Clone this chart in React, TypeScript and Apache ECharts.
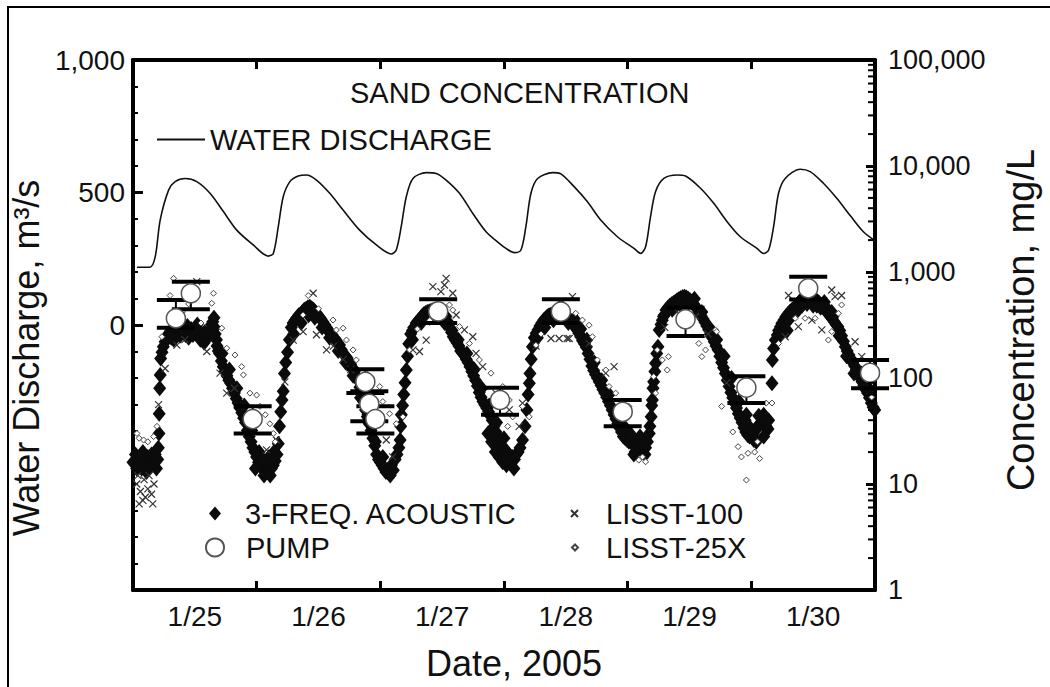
import React, { useEffect, useRef } from 'react';
import * as echarts from 'echarts';

// ---- tick labels ----
const dateLabels = ['1/25', '1/26', '1/27', '1/28', '1/29', '1/30'];
const leftLabelValues = [0, 500, 1000];
const rightMinorTickValues = [
  2, 3, 4, 5, 6, 7, 8, 9,
  20, 30, 40, 50, 60, 70, 80, 90,
  200, 300, 400, 500, 600, 700, 800, 900,
  2000, 3000, 4000, 5000, 6000, 7000, 8000, 9000,
  20000, 30000, 40000, 50000, 60000, 70000, 80000, 90000,
];

// ---- water discharge, m3/s (x = days since 1/25 00:00) ----
const discharge: [number, number][] = [
  [0.032, 218], [0.137, 218], [0.18, 258], [0.22, 396], [0.288, 509], [0.341, 541], [0.422, 553],
  [0.516, 541], [0.623, 497], [0.731, 428], [0.839, 358], [0.973, 302], [1.094, 260], [1.135, 270],
  [1.175, 371], [1.215, 484], [1.269, 541], [1.336, 562], [1.403, 566], [1.484, 547], [1.591, 497],
  [1.699, 434], [1.833, 358], [1.968, 302], [2.089, 268], [2.129, 283], [2.169, 371], [2.21, 484],
  [2.264, 553], [2.371, 575], [2.452, 572], [2.532, 547], [2.64, 497], [2.748, 421], [2.855, 352],
  [2.962, 308], [3.016, 289], [3.083, 273], [3.137, 283], [3.177, 371], [3.218, 497], [3.272, 553],
  [3.393, 575], [3.46, 570], [3.567, 522], [3.675, 465], [3.782, 396], [3.917, 333], [4.051, 289],
  [4.105, 270], [4.145, 295], [4.185, 409], [4.226, 504], [4.293, 553], [4.401, 566], [4.468, 562],
  [4.589, 516], [4.696, 459], [4.804, 390], [4.911, 333], [5.046, 289], [5.099, 270], [5.14, 283],
  [5.18, 371], [5.22, 497], [5.274, 553], [5.395, 588], [5.476, 579], [5.583, 535], [5.691, 478],
  [5.806, 409], [5.906, 352], [6.0, 318],
];

// ---- 3-frequency acoustic, mg/L ----
const acousticDay1: [number, number][] = [
  [0.0, 16], [0.02, 19], [0.03, 14], [0.04, 15], [0.06, 17], [0.07, 14], [0.08, 20], [0.1, 16], [0.11, 13],
  [0.12, 18], [0.14, 15], [0.15, 19], [0.16, 17], [0.18, 19], [0.19, 14], [0.2, 17],
  [0.205, 22], [0.21, 30], [0.212, 46], [0.216, 80], [0.22, 107], [0.224, 153], [0.235, 175], [0.245, 197],
  [0.26, 220], [0.27, 245], [0.28, 250], [0.3, 274], [0.31, 240], [0.32, 260], [0.335, 300], [0.35, 290],
  [0.365, 260], [0.38, 300], [0.395, 320], [0.41, 280], [0.425, 255], [0.44, 310], [0.455, 270], [0.47, 290],
  [0.485, 255], [0.5, 270], [0.515, 300], [0.53, 260], [0.545, 230], [0.56, 240], [0.575, 215], [0.59, 230],
  [0.605, 250], [0.62, 280], [0.635, 320], [0.645, 340], [0.655, 370], [0.66, 300], [0.665, 260], [0.675, 230],
  [0.68, 200], [0.69, 180], [0.7, 170], [0.715, 145], [0.73, 128], [0.745, 115], [0.76, 105], [0.775, 95],
  [0.79, 89], [0.805, 80], [0.82, 72], [0.835, 64], [0.85, 58], [0.865, 52], [0.88, 47], [0.895, 42],
  [0.91, 38], [0.925, 32], [0.94, 28], [0.955, 25], [0.97, 22], [0.985, 20], [1.0, 18], [1.015, 16],
  [1.03, 15], [1.045, 14], [1.06, 13.5], [1.075, 14.5], [1.09, 13.5], [1.105, 14], [1.12, 14], [1.135, 15],
  [1.15, 16.5], [1.02, 20], [1.06, 12], [1.1, 18], [1.14, 20],
  [0.33, 230], [0.38, 250], [0.45, 240], [0.52, 320], [0.58, 270], [0.64, 260], [0.72, 170], [0.78, 120],
  [0.84, 80], [0.9, 55], [0.96, 32], [0.99, 14], [1.05, 17], [1.11, 12],
];
const acousticDay2: [number, number][] = [
  [1.165, 19], [1.175, 24], [1.185, 35], [1.195, 48], [1.205, 62], [1.215, 75], [1.225, 110], [1.235, 140],
  [1.25, 175], [1.265, 230], [1.28, 300], [1.295, 330], [1.31, 350], [1.325, 370], [1.34, 390], [1.355, 400],
  [1.37, 420], [1.385, 440], [1.4, 450], [1.415, 465], [1.43, 470], [1.445, 455], [1.46, 440], [1.475, 420],
  [1.49, 400], [1.505, 380], [1.52, 360], [1.535, 340], [1.55, 320], [1.565, 300], [1.58, 280], [1.595, 265],
  [1.61, 255], [1.625, 240], [1.64, 230], [1.655, 215], [1.67, 205], [1.685, 185], [1.7, 170], [1.715, 162],
  [1.73, 155], [1.745, 145], [1.76, 135], [1.775, 125], [1.79, 115], [1.805, 105], [1.82, 95], [1.835, 82],
  [1.85, 70], [1.865, 60], [1.88, 50], [1.895, 43], [1.91, 37], [1.925, 32], [1.94, 27], [1.955, 23],
  [1.97, 19], [1.985, 17], [2.0, 16], [2.015, 15], [2.03, 14], [2.045, 13], [2.06, 13], [2.075, 14],
  [2.09, 15], [2.105, 13.5], [2.12, 17], [2.135, 19], [2.15, 22],
  [1.3, 260], [1.36, 330], [1.42, 390], [1.47, 370], [1.53, 300], [1.59, 240], [1.66, 180], [1.72, 140],
  [1.78, 105], [1.84, 65], [1.9, 45], [1.96, 25], [2.02, 18], [2.08, 12],
];
const acousticDay3: [number, number][] = [
  [2.16, 26], [2.165, 35], [2.17, 45], [2.18, 55], [2.19, 70], [2.2, 90], [2.21, 119], [2.22, 160],
  [2.23, 210], [2.245, 260], [2.26, 280], [2.27, 300], [2.29, 330], [2.305, 345], [2.32, 360], [2.335, 380],
  [2.35, 400], [2.365, 410], [2.38, 420], [2.395, 425], [2.41, 430], [2.425, 435], [2.44, 440], [2.455, 445],
  [2.47, 437], [2.485, 425], [2.5, 410], [2.515, 395], [2.53, 380], [2.545, 340], [2.56, 300], [2.575, 270],
  [2.59, 245], [2.605, 230], [2.62, 215], [2.635, 200], [2.65, 180], [2.665, 172], [2.68, 165], [2.695, 150],
  [2.71, 140], [2.725, 128], [2.74, 115], [2.755, 105], [2.77, 95], [2.785, 84], [2.8, 73], [2.815, 66],
  [2.83, 60], [2.845, 56], [2.86, 52], [2.875, 48], [2.89, 44], [2.905, 40], [2.92, 35], [2.935, 31],
  [2.95, 28], [2.965, 25], [2.98, 23], [2.995, 22], [3.01, 21], [3.025, 20], [3.04, 19], [3.055, 18],
  [3.07, 18], [3.085, 17], [3.1, 19], [3.115, 20], [3.13, 22],
  [2.87, 30], [2.9, 25], [2.93, 20], [2.96, 18], [2.99, 16], [3.02, 15], [3.05, 16],
  [2.26, 230], [2.33, 330], [2.4, 370], [2.47, 380], [2.52, 330], [2.58, 280], [2.63, 230], [2.7, 170],
  [2.76, 120], [2.82, 80], [2.88, 55], [2.94, 38], [3.0, 27], [3.08, 14],
];
const acousticDay4: [number, number][] = [
  [3.15, 26], [3.17, 35], [3.185, 50], [3.195, 70], [3.205, 89], [3.21, 110], [3.22, 150], [3.23, 197],
  [3.245, 240], [3.26, 265], [3.275, 285], [3.29, 310], [3.305, 330], [3.32, 350], [3.335, 365], [3.35, 380],
  [3.365, 390], [3.38, 395], [3.395, 405], [3.41, 410], [3.425, 415], [3.44, 420], [3.455, 430], [3.47, 408],
  [3.485, 400], [3.5, 390], [3.515, 375], [3.53, 360], [3.545, 340], [3.56, 320], [3.575, 305], [3.59, 285],
  [3.605, 265], [3.62, 245], [3.635, 225], [3.65, 210], [3.665, 195], [3.68, 170], [3.695, 150], [3.71, 130],
  [3.725, 118], [3.74, 108], [3.755, 100], [3.77, 92], [3.785, 85], [3.8, 78], [3.815, 72], [3.83, 66],
  [3.845, 60], [3.86, 55], [3.875, 50], [3.89, 45], [3.905, 41], [3.92, 37], [3.935, 34], [3.95, 31],
  [3.965, 28], [3.98, 27], [3.995, 26], [4.01, 25], [4.025, 25], [4.04, 24], [4.055, 24], [4.07, 23],
  [4.085, 23], [4.1, 22], [4.115, 22], [4.13, 22], [4.145, 22], [4.16, 25],
  [4.02, 30], [4.06, 20], [4.1, 28], [4.14, 19],
  [3.27, 240], [3.33, 300], [3.4, 350], [3.46, 480], [3.52, 330], [3.57, 360], [3.62, 290], [3.67, 230],
  [3.73, 140], [3.79, 95], [3.85, 70], [3.91, 48], [3.97, 35], [4.05, 19],
];
const acousticDay5: [number, number][] = [
  [4.175, 30], [4.18, 35], [4.19, 43], [4.195, 55], [4.2, 62], [4.205, 80], [4.21, 92], [4.22, 115],
  [4.226, 138], [4.235, 170], [4.245, 197], [4.255, 284], [4.27, 320], [4.28, 350], [4.295, 390], [4.31, 437],
  [4.325, 460], [4.34, 480], [4.355, 495], [4.37, 510], [4.385, 525], [4.4, 540], [4.415, 555], [4.43, 570],
  [4.445, 580], [4.46, 585], [4.475, 575], [4.49, 560], [4.505, 540], [4.52, 520], [4.535, 495], [4.55, 470],
  [4.565, 440], [4.58, 410], [4.595, 385], [4.61, 360], [4.625, 335], [4.64, 310], [4.655, 285], [4.67, 260],
  [4.685, 240], [4.7, 220], [4.715, 200], [4.73, 185], [4.745, 160], [4.76, 140], [4.775, 125], [4.79, 110],
  [4.805, 95], [4.82, 83], [4.835, 73], [4.85, 65], [4.865, 58], [4.88, 52], [4.895, 46], [4.91, 42],
  [4.925, 38], [4.94, 34], [4.955, 31], [4.97, 29], [4.985, 28], [5.0, 28], [5.015, 30], [5.03, 32],
  [5.045, 34], [5.06, 36], [5.075, 37], [5.09, 37], [5.105, 36], [5.12, 35], [5.135, 33],
  [4.98, 35], [5.02, 26], [5.06, 44], [5.1, 28], [5.14, 40], [4.95, 40], [5.167, 89],
  [4.29, 380], [4.36, 440], [4.42, 500], [4.48, 500], [4.54, 560], [4.6, 420], [4.66, 300], [4.72, 230],
  [4.78, 160], [4.84, 100], [4.9, 60], [4.96, 45], [5.04, 25], [5.1, 45],
];
const acousticDay6: [number, number][] = [
  [5.17, 148], [5.18, 190], [5.194, 228], [5.21, 255], [5.22, 280], [5.235, 305], [5.247, 328], [5.265, 355],
  [5.28, 380], [5.295, 400], [5.31, 420], [5.325, 435], [5.34, 450], [5.355, 470], [5.37, 490], [5.385, 515],
  [5.4, 540], [5.415, 565], [5.43, 585], [5.445, 580], [5.46, 570], [5.475, 560], [5.49, 555], [5.505, 550],
  [5.52, 545], [5.535, 530], [5.55, 510], [5.565, 490], [5.58, 470], [5.595, 445], [5.61, 420], [5.625, 400],
  [5.64, 380], [5.655, 360], [5.67, 340], [5.685, 320], [5.7, 305], [5.715, 280], [5.73, 250], [5.745, 222],
  [5.76, 197], [5.775, 180], [5.79, 165], [5.805, 152], [5.82, 140], [5.835, 130], [5.85, 120], [5.865, 110],
  [5.88, 100], [5.895, 92], [5.91, 85], [5.925, 78], [5.94, 72], [5.955, 65], [5.97, 58], [5.985, 53], [5.998, 50],
  [5.29, 280], [5.3, 350], [5.38, 440], [5.45, 500], [5.5, 480], [5.56, 460], [5.62, 440], [5.66, 380],
  [5.23, 250], [5.32, 380], [5.41, 480], [5.47, 620], [5.53, 480], [5.59, 520], [5.65, 420], [5.71, 250],
  [5.77, 160], [5.83, 110], [5.89, 110], [5.95, 80],
];

// ---- LISST-100, mg/L ----
const lisst100: [number, number][] = [
  [0.03, 10], [0.05, 6.5], [0.06, 8.5], [0.08, 7], [0.09, 11], [0.1, 7.5], [0.12, 9], [0.13, 12], [0.15, 8],
  [0.17, 10], [0.04, 12], [0.16, 6.5],
  [0.207, 56], [0.26, 123], [0.355, 204], [0.42, 230], [0.516, 810], [0.597, 178], [0.704, 111], [0.758, 72], [0.82, 80],
  [1.08, 21], [1.16, 26], [1.228, 92], [1.296, 228], [1.376, 274], [1.457, 630], [1.484, 256], [1.565, 184],
  [1.62, 200], [1.7, 150], [1.76, 120],
  [2.048, 26], [2.1, 18], [2.264, 184], [2.317, 178], [2.371, 228], [2.425, 727], [2.49, 652], [2.519, 754],
  [2.532, 871], [2.586, 630], [2.613, 393], [2.68, 284], [2.748, 245], [2.774, 171], [2.828, 128], [2.935, 72],
  [3.043, 50], [3.123, 35], [3.15, 58],
  [3.26, 200], [3.38, 236], [3.446, 236], [3.51, 236], [3.527, 236], [3.554, 585], [3.688, 212], [3.823, 111], [3.89, 128],
  [4.3, 300], [4.4, 420], [4.55, 380], [4.65, 260], [4.8, 90],
  [5.274, 245], [5.301, 600], [5.38, 305], [5.49, 352], [5.57, 284], [5.65, 676], [5.677, 585], [5.73, 600],
  [5.839, 220], [5.893, 159], [5.95, 100],
];

// ---- LISST-25X, mg/L ----
const lisst25x: [number, number][] = [
  [0.032, 30], [0.05, 27], [0.086, 26], [0.12, 25], [0.167, 28], [0.194, 35], [0.234, 245], [0.3, 600],
  [0.328, 871], [0.4, 420], [0.45, 500], [0.55, 330], [0.637, 507], [0.651, 630], [0.718, 295], [0.758, 191],
  [0.825, 165], [0.879, 128], [0.893, 107], [0.946, 72], [1.0, 69], [1.027, 54], [1.07, 45], [1.107, 37],
  [1.135, 30], [1.15, 25],
  [1.376, 393], [1.417, 600], [1.5, 450], [1.618, 352], [1.645, 284], [1.699, 295], [1.726, 228], [1.78, 184],
  [1.806, 148], [1.887, 111], [1.995, 83], [2.02, 60], [2.075, 46], [2.129, 37], [2.183, 43], [2.236, 184],
  [2.3, 290], [2.4, 350], [2.559, 489], [2.586, 437], [2.64, 305], [2.72, 212], [2.801, 148], [2.895, 111],
  [2.99, 83], [3.043, 62], [3.07, 43], [3.03, 35], [3.15, 54], [3.204, 43],
  [3.258, 204], [3.3, 260], [3.58, 408], [3.634, 352], [3.688, 315], [3.715, 245], [3.755, 148], [3.823, 119],
  [3.85, 83], [3.903, 72], [4.01, 54], [4.09, 16.8], [4.145, 16.2], [4.12, 18],
  [4.21, 103], [4.226, 72], [4.24, 184], [4.28, 148], [4.32, 119], [4.33, 159], [4.575, 212], [4.6, 159],
  [4.63, 184], [4.71, 284], [4.72, 274], [4.76, 54], [4.85, 31], [4.893, 22.5], [4.92, 18], [4.96, 10.9],
  [4.973, 19.5], [5.027, 20], [5.05, 25], [5.067, 17.4], [5.12, 58], [5.167, 58],
  [5.22, 212], [5.355, 366], [5.435, 366], [5.516, 366], [5.623, 228], [5.65, 274], [5.704, 408], [5.73, 489],
  [5.919, 119], [5.973, 66],
];

// ---- pump samples: day, conc, low, high (mg/L) ----
const pumpDays = [0.468, 0.347, 0.968, 1.879, 1.911, 1.96, 2.468, 2.968, 3.46, 3.96, 4.468, 4.96, 5.46, 5.96];
const pumpConc = [630, 366, 41, 92, 57, 41, 425, 62, 423, 48, 358, 81, 702, 112];
const pumpLow = [445, 298, 30, 72, 39, 30, 330, 45, 330, 35, 249, 58, 550, 80];
const pumpHigh = [810, 545, 54, 121, 75, 54, 552, 81, 552, 62, 460, 104, 903, 148];

const FONT = "'Liberation Sans', Arial, Helvetica, sans-serif";
const CROSS = 'path://M0,0L10,10M10,0L0,10';

export default function App() {
  const ref = useRef<HTMLDivElement>(null);
  useEffect(() => {
    if (!ref.current) return;
    const chart = echarts.init(ref.current, undefined, { renderer: 'svg' });
    const acoustic = [...acousticDay1, ...acousticDay2, ...acousticDay3, ...acousticDay4, ...acousticDay5, ...acousticDay6];
    const pumpRows = pumpDays.map((d, i) => [d, pumpConc[i], pumpLow[i], pumpHigh[i]]);
    const pumpPoints = pumpDays.map((d, i) => [d, pumpConc[i]]);
    const minorRows = rightMinorTickValues.map((v) => [6, v]);
    const axisLineStyle = { color: '#000', width: 4 };
    const legendText = (padLeft: number) => ({ fontSize: 29, color: '#111', fontFamily: FONT, padding: [0, 0, 0, padLeft] });
    const option: any = {
      animation: false,
      backgroundColor: '#fff',
      textStyle: { fontFamily: FONT, color: '#000' },
      title: {
        text: 'SAND CONCENTRATION', left: 350, top: 78, padding: 0,
        textStyle: { fontSize: 29, fontWeight: 'normal', color: '#111', fontFamily: FONT },
      },
      graphic: [
        { type: 'rect', silent: true, z: -10, shape: { x: 8, y: 7, width: 1100, height: 720 },
          style: { fill: 'none', stroke: '#000', lineWidth: 2 } },
      ],
      grid: { left: 131, right: 175, top: 60, bottom: 97, containLabel: false },
      legend: [
        { data: ['WATER DISCHARGE'], icon: 'rect', left: 157, top: 125, itemWidth: 48, itemHeight: 2, padding: 0, selectedMode: false, textStyle: legendText(0) },
        { data: ['3-FREQ. ACOUSTIC'], left: 209, top: 499, itemWidth: 12, itemHeight: 14, padding: 0, selectedMode: false, textStyle: legendText(19) },
        { data: ['PUMP'], left: 205, top: 533, itemWidth: 18, itemHeight: 18, padding: 0, selectedMode: false, textStyle: legendText(17) },
        { data: ['LISST-100'], left: 570, top: 499, itemWidth: 7, itemHeight: 7, padding: 0, selectedMode: false, textStyle: legendText(23) },
        { data: ['LISST-25X'], left: 571, top: 533, itemWidth: 6, itemHeight: 6, padding: 0, selectedMode: false, textStyle: legendText(23) },
      ],
      xAxis: [
        { type: 'value', position: 'bottom', min: 0, max: 6, interval: 1,
          axisLine: { show: true, onZero: false, lineStyle: axisLineStyle },
          axisTick: { show: true, inside: true, length: 9, lineStyle: { width: 3, color: '#000' } },
          axisLabel: { show: false }, splitLine: { show: false } },
        { type: 'value', position: 'top', min: 0, max: 6, interval: 1,
          axisLine: { show: true, onZero: false, lineStyle: axisLineStyle },
          axisTick: { show: true, inside: true, length: 9, lineStyle: { width: 3, color: '#000' } },
          axisLabel: { show: false }, splitLine: { show: false } },
        { type: 'category', position: 'bottom', data: dateLabels, boundaryGap: true,
          axisLine: { show: false }, axisTick: { show: false }, splitLine: { show: false },
          axisLabel: { fontSize: 28, margin: 12, color: '#111', fontFamily: FONT },
          name: 'Date, 2005', nameLocation: 'middle', nameGap: 55,
          nameTextStyle: { fontSize: 36, color: '#111', fontFamily: FONT, padding: [0, 0, 0, 20] } },
      ],
      yAxis: [
        { type: 'value', position: 'left', min: -1000, max: 1000, interval: 500,
          axisLine: { show: true, onZero: false, lineStyle: axisLineStyle },
          axisTick: { show: true, inside: true, length: 10, lineStyle: { width: 3, color: '#000' } },
          minorTick: { show: true, splitNumber: 5, length: 5, lineStyle: { width: 2, color: '#000' } },
          splitLine: { show: false }, minorSplitLine: { show: false },
          axisLabel: { fontSize: 28, margin: 8, color: '#111', fontFamily: FONT,
            formatter: (v: number) => (leftLabelValues.includes(v) ? v.toLocaleString('en-US') : '') },
          name: 'Water Discharge, m³/s', nameLocation: 'middle', nameRotate: 90, nameGap: 80,
          nameTextStyle: { fontSize: 36, color: '#111', fontFamily: FONT, padding: [0, 66, 0, 0] } },
        { type: 'log', logBase: 10, position: 'right', min: 1, max: 100000,
          axisLine: { show: true, onZero: false, lineStyle: axisLineStyle },
          axisTick: { show: true, inside: true, length: 9, lineStyle: { width: 3, color: '#000' } },
          splitLine: { show: false },
          axisLabel: { fontSize: 27, margin: 13, color: '#111', fontFamily: FONT,
            formatter: (v: number) => Math.round(v).toLocaleString('en-US') },
          name: 'Concentration, mg/L', nameLocation: 'middle', nameRotate: 90, nameGap: 127,
          nameTextStyle: { fontSize: 38, color: '#111', fontFamily: FONT, padding: [0, 0, 0, 10] } },
      ],
      series: [
        { name: 'WATER DISCHARGE', type: 'line', xAxisIndex: 0, yAxisIndex: 0, data: discharge,
          symbol: 'none', smooth: 0.3, lineStyle: { color: '#111', width: 1.6 }, itemStyle: { color: '#111' }, z: 3 },
        { name: '3-FREQ. ACOUSTIC', type: 'scatter', xAxisIndex: 0, yAxisIndex: 1, data: acoustic,
          symbol: 'diamond', symbolSize: [13, 16], itemStyle: { color: '#0b0b0b', opacity: 1 }, z: 2 },
        { name: 'LISST-100', type: 'scatter', xAxisIndex: 0, yAxisIndex: 1, data: lisst100,
          symbol: CROSS, symbolSize: 7, itemStyle: { color: 'transparent', borderColor: '#333', borderWidth: 1.2, opacity: 1 }, z: 3 },
        { name: 'LISST-25X', type: 'scatter', xAxisIndex: 0, yAxisIndex: 1, data: lisst25x,
          symbol: 'diamond', symbolSize: 6, itemStyle: { color: '#fff', borderColor: '#444', borderWidth: 1, opacity: 1 }, z: 3 },
        { name: 'PUMP error', type: 'custom', xAxisIndex: 0, yAxisIndex: 1, data: pumpRows, z: 4, silent: true,
          encode: { x: 0, y: 1 },
          renderItem: (_p: any, api: any) => {
            const x = api.value(0);
            const hi = api.coord([x, api.value(3)]);
            const lo = api.coord([x, api.value(2)]);
            const half = 19;
            return {
              type: 'group',
              children: [
                { type: 'line', shape: { x1: hi[0], y1: hi[1], x2: lo[0], y2: lo[1] }, style: { stroke: '#000', lineWidth: 2 } },
                { type: 'line', shape: { x1: hi[0] - half, y1: hi[1], x2: hi[0] + half, y2: hi[1] }, style: { stroke: '#000', lineWidth: 4 } },
                { type: 'line', shape: { x1: lo[0] - half, y1: lo[1], x2: lo[0] + half, y2: lo[1] }, style: { stroke: '#000', lineWidth: 4 } },
              ],
            };
          } },
        { name: 'PUMP', type: 'scatter', xAxisIndex: 0, yAxisIndex: 1, data: pumpPoints,
          symbol: 'circle', symbolSize: 19, itemStyle: { color: '#fff', borderColor: '#555', borderWidth: 1.5, opacity: 1 }, z: 5 },
        { name: 'log minor ticks', type: 'custom', xAxisIndex: 0, yAxisIndex: 1, data: minorRows, z: 6, silent: true,
          encode: { x: 0, y: 1 },
          renderItem: (_p: any, api: any) => {
            const p = api.coord([api.value(0), api.value(1)]);
            return { type: 'line', shape: { x1: p[0] - 1, y1: p[1], x2: p[0] - 7, y2: p[1] }, style: { stroke: '#000', lineWidth: 2 } };
          } },
      ],
    };
    chart.setOption(option);
    return () => chart.dispose();
  }, []);
  return <div ref={ref} style={{ position: 'fixed', left: 0, top: 0, width: 1050, height: 687, background: '#fff' }} />;
}
